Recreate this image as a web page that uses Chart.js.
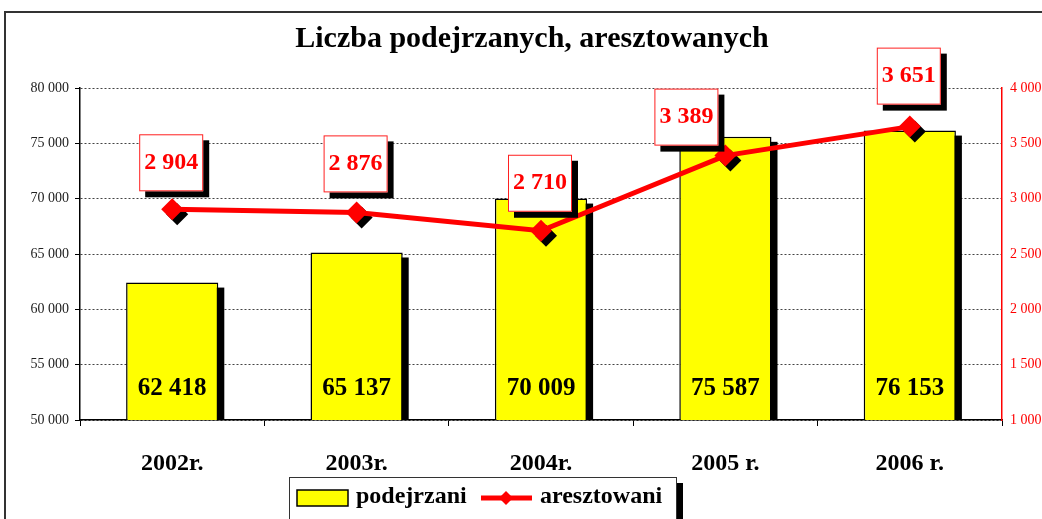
<!DOCTYPE html>
<html>
<head>
<meta charset="utf-8">
<script src="https://cdn.jsdelivr.net/npm/chart.js@4.4.0/dist/chart.umd.min.js"></script>
<style>
  body { margin: 0; background: #fff; }
  #wrap { width: 1042px; height: 519px; position: relative; }
</style>
</head>
<body>
<div id="wrap"><canvas id="myChart"></canvas></div>
<script>
const years = ['2002r.', '2003r.', '2004r.', '2005 r.', '2006 r.'];
const podejrzani = [62418, 65137, 70009, 75587, 76153];
const aresztowani = [2904, 2876, 2710, 3389, 3651];
const chartTitle = 'Liczba podejrzanych, aresztowanych';
// nudges for the boxed line labels (dx, gap above point), only 2005 was moved in the original
const boxShift = [[0, 18], [0, 20], [0, 19], [-38, 10], [0, 22]];

const SERIF = '"Liberation Serif", "DejaVu Serif", serif';
const fmt = v => String(v).replace(/\B(?=(\d{3})+(?!\d))/g, ' ');

const frame = {
    id: 'frame',
    beforeDraw(chart) {
        const ctx = chart.ctx;
        ctx.save();
        ctx.fillStyle = '#fff';
        ctx.fillRect(0, 0, chart.width, chart.height);
        ctx.strokeStyle = '#333';
        ctx.lineWidth = 2;
        ctx.strokeRect(5, 12, 1100, 600);
        // title, sits a bit right of the canvas centre in the original
        ctx.font = 'bold 30px ' + SERIF;
        ctx.fillStyle = '#000';
        ctx.textAlign = 'center';
        ctx.textBaseline = 'middle';
        ctx.fillText(chartTitle, 532, 39);
        ctx.restore();
    }
};

const shadows = {
    id: 'shadows',
    beforeDatasetDraw(chart, args) {
        const ctx = chart.ctx;
        ctx.save();
        ctx.fillStyle = '#000';
        if (args.meta.type === 'bar') {
            const base = chart.scales.y.getPixelForValue(50000);
            args.meta.data.forEach(b => {
                const left = b.x - b.width / 2;
                ctx.fillRect(left + 6, b.y + 5, b.width, base - b.y - 5);
            });
        }
        if (args.meta.type === 'line') {
            args.meta.data.forEach(p => {
                const x = p.x + 5, y = p.y + 5, r = 11;
                ctx.beginPath();
                ctx.moveTo(x, y - r);
                ctx.lineTo(x + r, y);
                ctx.lineTo(x, y + r);
                ctx.lineTo(x - r, y);
                ctx.closePath();
                ctx.fill();
            });
        }
        ctx.restore();
    }
};

const valueLabels = {
    id: 'valueLabels',
    afterDatasetsDraw(chart) {
        const ctx = chart.ctx;
        ctx.save();
        // bar values inside bars
        const barMeta = chart.getDatasetMeta(0);
        const base = chart.scales.y.getPixelForValue(50000);
        ctx.font = 'bold 25px ' + SERIF;
        ctx.fillStyle = '#000';
        ctx.textAlign = 'center';
        ctx.textBaseline = 'middle';
        barMeta.data.forEach((b, i) => {
            ctx.fillText(fmt(podejrzani[i]), b.x, base - 31);
        });
        // boxed line values
        const lineMeta = chart.getDatasetMeta(1);
        ctx.font = 'bold 24px ' + SERIF;
        lineMeta.data.forEach((p, i) => {
            const w = 64, h = 57;
            const cx = p.x - 1 + boxShift[i][0];
            const bottom = p.y - boxShift[i][1];
            const left = cx - w / 2, top = bottom - h;
            ctx.fillStyle = '#000';
            ctx.fillRect(left + 6, top + 6, w, h);
            ctx.fillStyle = '#fff';
            ctx.fillRect(left, top, w, h);
            ctx.strokeStyle = '#ff2020';
            ctx.lineWidth = 1;
            ctx.strokeRect(left + 0.5, top + 0.5, w - 1, h - 1);
            ctx.fillStyle = '#ff0000';
            ctx.fillText(fmt(aresztowani[i]), cx, top + h / 2);
        });
        ctx.restore();
    }
};

const legendBox = {
    id: 'legendBox',
    afterDraw(chart) {
        const ctx = chart.ctx;
        const ds = chart.data.datasets;
        ctx.save();
        ctx.fillStyle = '#000';
        ctx.fillRect(677, 483, 6, 40);
        ctx.fillStyle = '#fff';
        ctx.fillRect(289, 477, 388, 60);
        ctx.strokeStyle = '#333';
        ctx.lineWidth = 1;
        ctx.strokeRect(289.5, 477.5, 387, 60);

        ctx.fillStyle = '#ffff00';
        ctx.fillRect(297, 490, 51, 16);
        ctx.strokeStyle = '#000';
        ctx.lineWidth = 1.5;
        ctx.strokeRect(297, 490, 51, 16);

        ctx.font = 'bold 24px ' + SERIF;
        ctx.fillStyle = '#000';
        ctx.textBaseline = 'middle';
        ctx.fillText(ds[0].label, 356, 497);

        ctx.strokeStyle = '#ff0000';
        ctx.lineWidth = 5;
        ctx.beginPath();
        ctx.moveTo(481, 498);
        ctx.lineTo(532, 498);
        ctx.stroke();
        ctx.fillStyle = '#ff0000';
        ctx.beginPath();
        ctx.moveTo(506, 491);
        ctx.lineTo(513, 498);
        ctx.lineTo(506, 505);
        ctx.lineTo(499, 498);
        ctx.closePath();
        ctx.fill();

        ctx.fillStyle = '#000';
        ctx.fillText(ds[1].label, 540, 497);
        ctx.restore();
    }
};

const ctx = document.getElementById('myChart').getContext('2d');
const myChart = new Chart(ctx, {
    data: {
        labels: years,
        datasets: [
            {
                type: 'bar',
                label: 'podejrzani',
                data: podejrzani,
                backgroundColor: '#ffff00',
                borderColor: '#000',
                borderWidth: 1.5,
                borderSkipped: false,
                categoryPercentage: 0.5,
                barPercentage: 1,
                yAxisID: 'y',
                clip: 0,
                order: 2
            },
            {
                type: 'line',
                label: 'aresztowani',
                data: aresztowani,
                borderColor: '#ff0000',
                borderWidth: 5,
                pointStyle: 'rectRot',
                pointRadius: 11,
                pointHoverRadius: 11,
                pointBackgroundColor: '#ff0000',
                pointBorderWidth: 0,
                tension: 0,
                yAxisID: 'y1',
                order: 1
            }
        ]
    },
    options: {
        responsive: true,
        maintainAspectRatio: false,
        animation: false,
        layout: { padding: { top: 88, left: 0, right: 0, bottom: 0 } },
        plugins: {
            legend: { display: false },
            tooltip: { enabled: false },
            title: { display: false }
        },
        scales: {
            x: {
                offset: true,
                afterFit: s => { s.height = 99; },
                grid: {
                    offset: true,
                    drawOnChartArea: false,
                    drawTicks: true,
                    tickLength: 6,
                    tickColor: '#000',
                    tickWidth: 1
                },
                border: { color: '#000', width: 1.5 },
                ticks: {
                    color: '#000',
                    padding: 23,
                    font: { family: SERIF, size: 24, weight: 'bold' }
                }
            },
            y: {
                position: 'left',
                min: 50000,
                max: 80000,
                afterFit: s => { s.width = 80; },
                ticks: {
                    stepSize: 5000,
                    color: '#222',
                    padding: 6,
                    font: { family: SERIF, size: 14 },
                    callback: v => fmt(v)
                },
                grid: {
                    color: '#444',
                    lineWidth: 1,
                    tickLength: 5,
                    tickColor: '#000',
                    tickBorderDash: []
                },
                border: { color: '#000', width: 1.5, dash: [2, 2] }
            },
            y1: {
                position: 'right',
                min: 1000,
                max: 4000,
                afterFit: s => { s.width = 40; },
                ticks: {
                    stepSize: 500,
                    color: '#ff0000',
                    padding: 8,
                    font: { family: SERIF, size: 14 },
                    callback: v => fmt(v)
                },
                grid: { drawOnChartArea: false, drawTicks: false },
                border: { color: '#ff0000', width: 1.5 }
            }
        }
    },
    plugins: [frame, shadows, valueLabels, legendBox]
});
</script>
</body>
</html>
